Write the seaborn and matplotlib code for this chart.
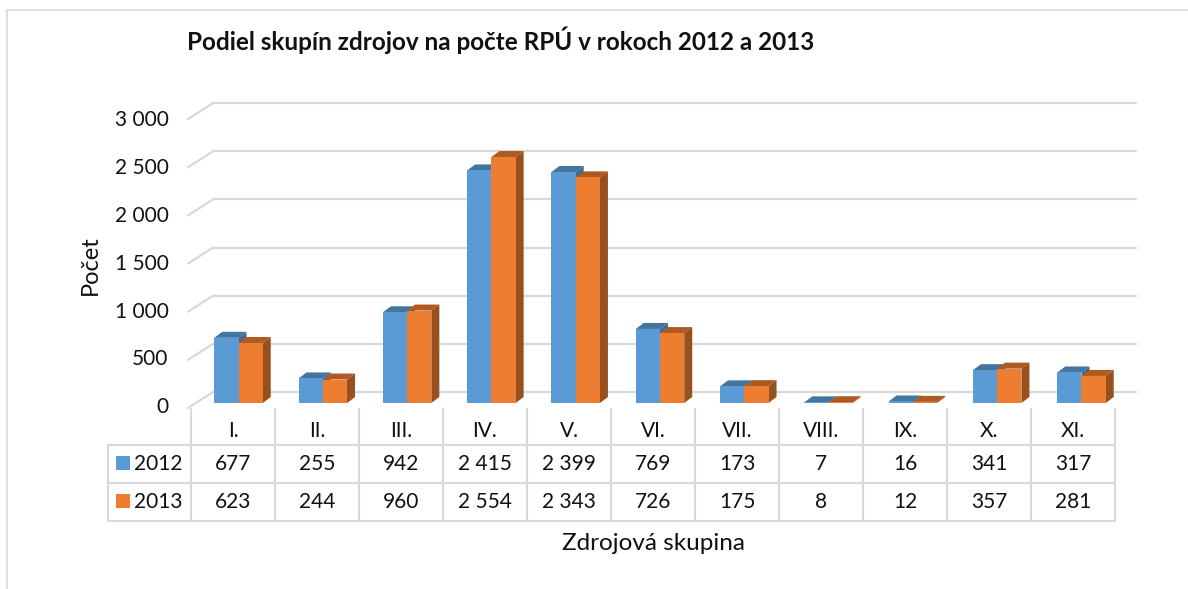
import matplotlib
matplotlib.use('Agg')
import matplotlib.pyplot as plt
import matplotlib.transforms as mtrans
from matplotlib.lines import Line2D
from matplotlib.patches import Polygon, Rectangle
from matplotlib.table import Table
import seaborn as sns
import pandas as pd

groups = ['I.', 'II.', 'III.', 'IV.', 'V.', 'VI.', 'VII.', 'VIII.', 'IX.', 'X.', 'XI.']
values_2012 = [677, 255, 942, 2415, 2399, 769, 173, 7, 16, 341, 317]
values_2013 = [623, 244, 960, 2554, 2343, 726, 175, 8, 12, 357, 281]
y_ticks = [0, 500, 1000, 1500, 2000, 2500, 3000]

W, H = 1188, 589
BLUE, ORANGE = '#5b9bd5', '#ed7d31'
BLUE_TOP, BLUE_SIDE = '#44759f', '#3f6b91'
ORANGE_TOP, ORANGE_SIDE = '#ae5a21', '#98501e'
GRID = '#d9d9d9'
INK = '#111111'


def fmt(v):
    return f'{v:,}'.replace(',', ' ')


def px_axes(left, top, right, bottom):
    return fig.add_axes([left / W, 1 - bottom / H, (right - left) / W, (bottom - top) / H])


sns.set_style('white')
plt.rcParams['font.family'] = ['Lato', 'DejaVu Sans']

df = pd.DataFrame({
    'group': groups * 2,
    'year': ['2012'] * len(groups) + ['2013'] * len(groups),
    'count': values_2012 + values_2013,
})

fig = plt.figure(figsize=(W / 100, H / 100), dpi=100)

# Main axes: one category = 84.3 px, 0.0963 px per unit
ax = px_axes(196.35, 103, 1123.65, 403)
sns.barplot(data=df, x='group', y='count', hue='year', palette=[BLUE, ORANGE],
            width=0.575, gap=0, saturation=1, legend=False, ax=ax, zorder=4, linewidth=0)
ax.set_xlim(-0.5, 10.5)
ax.set_ylim(0, 300 / 0.0963)
for s in ax.spines.values():
    s.set_visible(False)
ax.patch.set_alpha(0)

x_per_px = 11 / (1123.65 - 196.35)
y_per_px = (300 / 0.0963) / 300


def to_x(p):
    return (p - 196.35) * x_per_px - 0.5


# Back wall gridlines and the short diagonals on the left
for t in y_ticks:
    back = t + 11 * y_per_px
    front = t - 5 * y_per_px
    ax.plot([to_x(213), to_x(1136)], [back, back], color=GRID, lw=1.6, zorder=1, clip_on=False)
    ax.plot([to_x(188), to_x(213)], [front, back], color=GRID, lw=1.6, zorder=1, clip_on=False)

# Depth faces of the pseudo 3D bars
dx = 8 * x_per_px
dy = 6 * y_per_px
faces = [(BLUE_TOP, BLUE_SIDE), (ORANGE_TOP, ORANGE_SIDE)]
for i, cont in enumerate(ax.containers):
    for bar in cont:
        x0, x1 = bar.get_x(), bar.get_x() + bar.get_width()
        h = bar.get_height()
        ax.add_patch(Polygon([(x0, h), (x0 + dx, h + dy), (x1 + dx, h + dy), (x1, h)],
                             fc=faces[i][0], ec='none', zorder=3 + 2 * i, clip_on=False))
        ax.add_patch(Polygon([(x1, 0), (x1 + dx, dy), (x1 + dx, h + dy), (x1, h)],
                             fc=faces[i][1], ec='none', zorder=3 + 2 * i, clip_on=False))
        bar.set_zorder(4 + 2 * i)

ax.set_xticks([])
ax.set_yticks(y_ticks)
ax.set_yticklabels([fmt(t) for t in y_ticks], fontsize=15, color=INK)
ax.tick_params(axis='y', length=0, pad=20)
for lab, shift in zip(ax.get_yticklabels(), [2, 2.5, 3, 3, 3.5, 3.5, 4]):
    lab.set_transform(lab.get_transform() + mtrans.Affine2D().translate(0, -shift))
ax.set_xlabel('')
ax.set_ylabel('')

# Category row above the table
head = px_axes(191, 408, 1115, 445)
head.set_xlim(-0.5, 10.5)
head.set_ylim(0, 1)
head.patch.set_alpha(0)
for s in head.spines.values():
    s.set_visible(False)
head.vlines([i - 0.5 for i in range(len(groups) + 1)], 0, 1, color=GRID, lw=1.5, clip_on=False)
head.set_yticks([])
head.set_xticks(range(len(groups)))
head.set_xticklabels(groups, fontsize=15, color=INK)
head.tick_params(axis='x', length=0, pad=-17)

# Data table, first column holds the year names
tab_ax = px_axes(108, 445, 1115, 521)
tab_ax.axis('off')
table = Table(tab_ax, bbox=[0, 0, 1, 1])
total = 1115 - 108
for r, (year, vals) in enumerate([('2012', values_2012), ('2013', values_2013)]):
    table.add_cell(r, 0, 83 / total, 0.5, text=year, loc='right', edgecolor=GRID)
    for c, v in enumerate(vals):
        table.add_cell(r, c + 1, 84 / total, 0.5, text=fmt(v), loc='center', edgecolor=GRID)
table.auto_set_font_size(False)
table.set_fontsize(15)
for cell in table.get_celld().values():
    cell.set_linewidth(1.5)
    cell.get_text().set_color(INK)
tab_ax.add_table(table)

for year_y, col in [(456, BLUE), (494, ORANGE)]:
    fig.add_artist(Rectangle((116 / W, 1 - (year_y + 14) / H), 14 / W, 14 / H,
                             transform=fig.transFigure, fc=col, ec='none', zorder=5))

fig.text(187 / W, 1 - 40 / H, 'Podiel skupín zdrojov na počte RPÚ v rokoch 2012 a 2013',
         fontsize=17.5, fontweight='bold', color=INK, va='center', ha='left')
fig.text(90 / W, 1 - 265 / H, 'Počet', fontsize=17, rotation=90, color=INK,
         va='center', ha='center')
fig.text(654 / W, 1 - 543 / H, 'Zdrojová skupina', fontsize=17.5, color=INK,
         va='center', ha='center')

# Thin chart frame
fig.add_artist(Line2D([7 / W, 1], [1 - 10 / H, 1 - 10 / H], color=GRID, lw=1.2))
fig.add_artist(Line2D([7 / W, 7 / W], [0, 1 - 10 / H], color=GRID, lw=1.2))

fig.savefig('out.png', dpi=100)
